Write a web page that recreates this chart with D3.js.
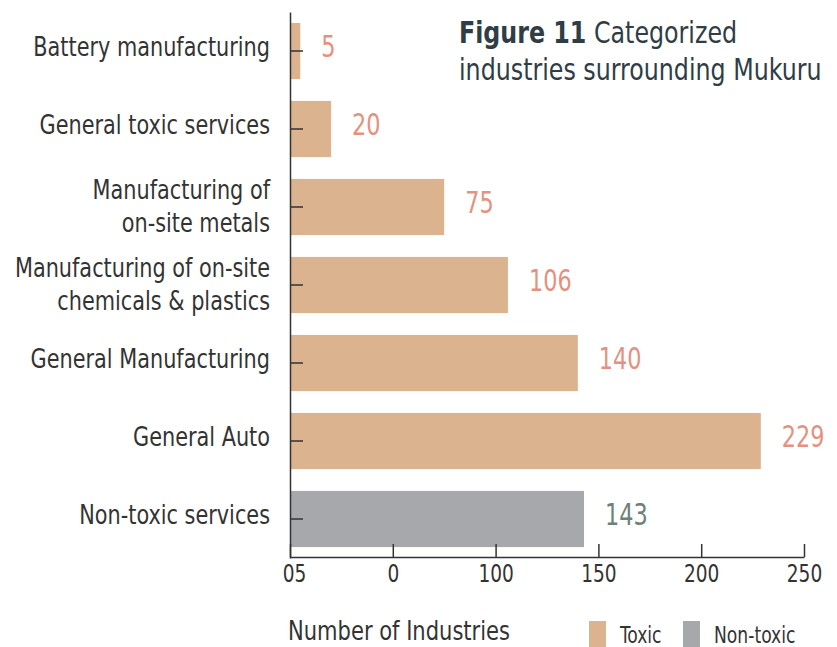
<!DOCTYPE html>
<html lang="en">
<head>
<meta charset="UTF-8">
<title>Categorized industries surrounding Mukuru</title>
<script src="https://cdn.jsdelivr.net/npm/d3@7"></script>
<style>
  body { margin: 0; background: #fff; }
  svg text { font-family: "DejaVu Sans Condensed", "DejaVu Sans", sans-serif; }
</style>
</head>
<body>
<svg id="chart" width="837" height="647"></svg>
<script>
// data
const categories = [
  ["Battery manufacturing"],
  ["General toxic services"],
  ["Manufacturing of", "on-site metals"],
  ["Manufacturing of on-site", "chemicals & plastics"],
  ["General Manufacturing"],
  ["General Auto "],
  ["Non-toxic services"]
];
const values = [5, 20, 75, 106, 140, 229, 143];
const kinds = ["Toxic", "Toxic", "Toxic", "Toxic", "Toxic", "Toxic", "Non-toxic"];
const xTicks = [0, 50, 100, 150, 200, 250];
const xTickLabels = ["05", "0", "100", "150", "200", "250"]; // as printed in the source
const legendItems = ["Toxic", "Non-toxic"];

const fill = d3.scaleOrdinal().domain(legendItems).range(["#dbb48f", "#a7a8ac"]);
const labelColor = d3.scaleOrdinal().domain(legendItems).range(["#e3927f", "#6e8078"]);

const svg = d3.select("#chart");
const ink = "#333";

// squeeze text horizontally so it looks like the condensed face of the original
function squeeze(sel, k, tx, ty) {
  sel.attr("x", 0).attr("y", 0)
    .attr("transform", (d, i) => `translate(${tx(d, i)},${ty(d, i)}) scale(${k},1)`);
}

const x = d3.scaleLinear().domain([0, 250]).range([290, 804]);
const y = d3.scaleBand()
  .domain(d3.range(values.length))
  .range([12, 558])
  .paddingInner(0.28)
  .paddingOuter(0.14);
const mid = i => y(i) + y.bandwidth() / 2;

// bars
svg.append("g").selectAll("rect")
  .data(values)
  .join("rect")
  .attr("x", x(0))
  .attr("y", (d, i) => y(i))
  .attr("width", d => x(d) - x(0))
  .attr("height", y.bandwidth())
  .attr("fill", (d, i) => fill(kinds[i]));

// value labels
svg.append("g").selectAll("text")
  .data(values)
  .join("text")
  .attr("font-size", 30)
  .attr("fill", (d, i) => labelColor(kinds[i]))
  .text(d => d)
  .call(squeeze, 0.83, d => x(d) + 21, (d, i) => mid(i) + 6);

// y axis (ticks point into the bars)
const yAxis = svg.append("g")
  .attr("transform", `translate(${x(0)},0)`)
  .call(d3.axisRight(y).tickSizeOuter(0).tickSizeInner(13).tickFormat(""));
yAxis.select(".domain").attr("stroke", ink).attr("stroke-width", 1.5);
yAxis.selectAll(".tick line").attr("stroke", ink).attr("stroke-width", 1.5);

// category labels
const cat = svg.append("g").selectAll("text")
  .data(categories)
  .join("text")
  .attr("text-anchor", "end")
  .attr("font-size", 26)
  .attr("fill", ink)
  .call(squeeze, 0.89, () => 270, (d, i) => d.length > 1 ? mid(i) - 8 : mid(i) + 5);
cat.selectAll("tspan")
  .data(d => d)
  .join("tspan")
  .attr("x", 0)
  .attr("dy", (d, j) => j === 0 ? 0 : 33)
  .text(d => d);

// x axis (ticks point up)
const xAxis = svg.append("g")
  .attr("transform", `translate(0,557)`)
  .call(d3.axisBottom(x)
    .tickValues(xTicks)
    .tickSizeOuter(0)
    .tickSizeInner(-13)
    .tickPadding(8)
    .tickFormat((d, i) => xTickLabels[i]));
xAxis.select(".domain").attr("stroke", ink).attr("stroke-width", 1.5);
xAxis.selectAll(".tick line").attr("stroke", ink).attr("stroke-width", 1.5);
xAxis.selectAll(".tick text")
  .attr("font-size", 24)
  .attr("fill", ink)
  .attr("dy", null)
  .style("font-family", "'DejaVu Sans Condensed', sans-serif")
  .call(squeeze, 0.86, (d, i) => i === 0 ? 4 : 0, () => 25);

// axis title
svg.append("text")
  .attr("font-size", 26)
  .attr("fill", ink)
  .text("Number of Industries")
  .call(squeeze, 0.9, () => 288, () => 640);

// legend
const leg = svg.append("g").selectAll("g")
  .data(legendItems)
  .join("g")
  .attr("transform", (d, i) => `translate(${589 + i * 94},621)`);
leg.append("rect")
  .attr("width", 17)
  .attr("height", 26)
  .attr("fill", d => fill(d));
leg.append("text")
  .attr("font-size", 23)
  .attr("fill", ink)
  .text(d => d)
  .call(squeeze, 0.83, () => 31, () => 22);

// title
const title = svg.append("text")
  .attr("font-size", 30)
  .attr("fill", "#2f3d46")
  .call(squeeze, 0.88, () => 459, () => 43);
title.append("tspan").attr("font-weight", "bold").text("Figure 11");
title.append("tspan").text(" Categorized");
title.append("tspan").attr("x", 0).attr("dy", 37).text("industries surrounding Mukuru");
</script>
</body>
</html>
